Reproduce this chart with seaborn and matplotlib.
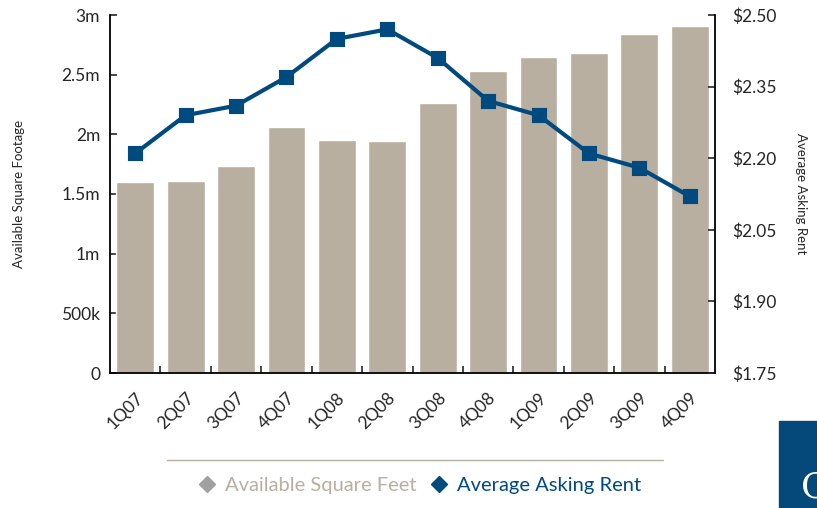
import matplotlib
matplotlib.use("Agg")
import matplotlib.pyplot as plt
import matplotlib.ticker as mticker
from matplotlib.lines import Line2D
from matplotlib.patches import Rectangle
import seaborn as sns

quarters = ["1Q07", "2Q07", "3Q07", "4Q07", "1Q08", "2Q08",
            "3Q08", "4Q08", "1Q09", "2Q09", "3Q09", "4Q09"]
available_sf = [1.60e6, 1.61e6, 1.735e6, 2.06e6, 1.95e6, 1.94e6,
                2.26e6, 2.53e6, 2.65e6, 2.68e6, 2.84e6, 2.91e6]
asking_rent = [2.21, 2.29, 2.31, 2.37, 2.45, 2.47,
               2.41, 2.32, 2.29, 2.21, 2.18, 2.12]

tan = "#B8AFA0"
navy = "#004A80"

sns.set_style("white")
plt.rcParams["font.family"] = ["Lato", "DejaVu Sans"]

fig = plt.figure(figsize=(8.17, 5.08), dpi=100)
ax = fig.add_axes([110 / 817, 1 - 373 / 508, 605 / 817, 358 / 508])

sns.barplot(x=quarters, y=available_sf, color=tan, width=0.75,
            saturation=1, ax=ax)
ax.set_ylim(0, 3e6)
ax.set_xlim(-0.5, 11.5)
ax.set_yticks([0, 0.5e6, 1e6, 1.5e6, 2e6, 2.5e6, 3e6])
ax.set_yticklabels(["0", "500k", "1m", "1.5m", "2m", "2.5m", "3m"])
ax.set_ylabel("Available Square Footage", fontsize=9.5, labelpad=26)
ax.tick_params(axis="y", direction="in", length=5, width=1.2,
               labelsize=12.5, pad=7, left=True)
ax.set_xticks(range(len(quarters)))
ax.set_xticklabels(quarters, rotation=45, ha="right",
                   rotation_mode="anchor", fontsize=12.5)
ax.tick_params(axis="x", length=0, pad=12)
ax.set_xticks([i + 0.5 for i in range(len(quarters) - 1)], minor=True)
ax.tick_params(axis="x", which="minor", direction="in", length=5,
               width=1.2, bottom=True)
for s in ["left", "bottom"]:
    ax.spines[s].set_color("black")
    ax.spines[s].set_linewidth(1.3)
ax.spines["top"].set_visible(False)
ax.spines["right"].set_visible(False)

ax2 = ax.twinx()
sns.pointplot(x=quarters, y=asking_rent, color=navy, markers="s",
              markersize=8.5, linewidth=3, ax=ax2)
ax2.set_ylim(1.75, 2.50)
ax2.set_xlim(-0.5, 11.5)
ax2.set_yticks([1.75, 1.90, 2.05, 2.20, 2.35, 2.50])
ax2.yaxis.set_major_formatter(mticker.FormatStrFormatter("$%.2f"))
ax2.set_ylabel("Average Asking Rent", fontsize=9.5, rotation=-90,
               labelpad=22)
ax2.tick_params(axis="y", direction="in", length=5, width=1.2,
                labelsize=12.5, pad=12, right=True)
ax2.spines["right"].set_color("black")
ax2.spines["right"].set_linewidth(1.3)
for s in ["top", "left", "bottom"]:
    ax2.spines[s].set_visible(False)

# legend with rule above it
fig.add_artist(Line2D([167 / 817, 663 / 817], [1 - 460 / 508] * 2,
                      color=tan, lw=1))
handles = [
    Line2D([], [], marker="D", color="#A0A0A0", linestyle="none", markersize=8),
    Line2D([], [], marker="D", color=navy, linestyle="none", markersize=8),
]
fig.legend(handles, ["Available Square Feet", "Average Asking Rent"],
           labelcolor=[tan, navy], loc="center", ncol=2, frameon=False,
           bbox_to_anchor=(419 / 817, 1 - 485 / 508), fontsize=14.5,
           handletextpad=0.4, columnspacing=0.6, handlelength=1.0)

# corner logo block
fig.add_artist(Rectangle((779 / 817, 0), 38 / 817, 87 / 508,
                         transform=fig.transFigure, color="#05497A"))
fig.text(801 / 817, 3 / 508, "C", color="white", fontsize=26,
         family="DejaVu Serif", ha="left", va="bottom")

fig.savefig("out.png", dpi=100)
